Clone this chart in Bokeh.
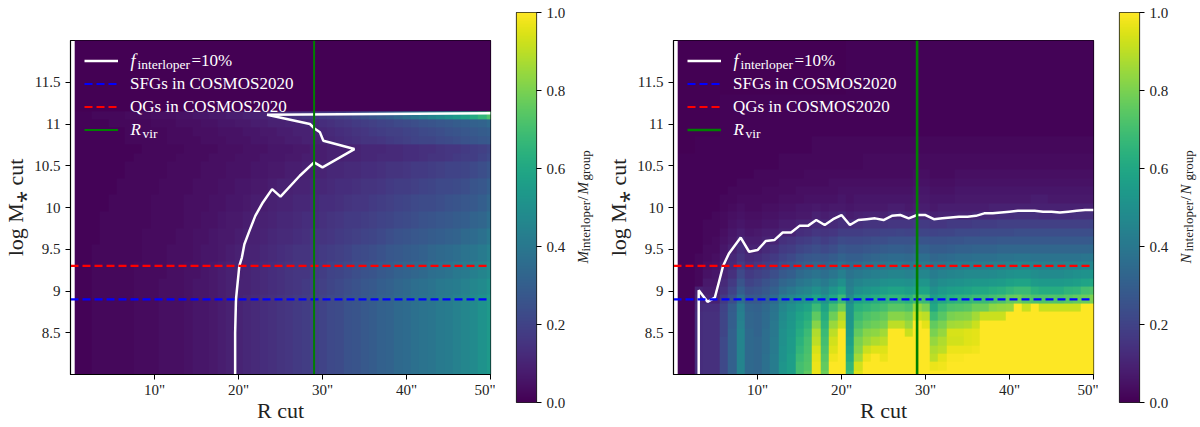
import numpy as np
from bokeh.plotting import figure
from bokeh.layouts import row
from bokeh.embed import file_html
from bokeh.resources import INLINE
from bokeh.models import (LinearColorMapper, FixedTicker, Label, Legend, LegendItem, LinearAxis)
from bokeh.palettes import Viridis256

# Column centres (R cut, arcsec) and row centres (log M* cut)
r_cut = list(range(1, 51))
mass_cut = [round(8.0 + 0.1 * i, 1) for i in range(41)]

# ---- left panel: M_interloper / M_group (percent), one list per group of rows, 50 columns
ML_low = [1,1,2,2,2,2,2,3,3,3, 4,4,4,5,6,6,7,8,9,10, 11,12,13,14,15,16,17,18,19,20, 22,23,25,26,28,29,31,32,34,35, 37,38,39,41,42,44,46,48,51,54]
ML_90 = [1,1,2,2,2,2,2,3,3,3, 4,4,4,5,6,6,7,8,9,10, 10,11,12,13,14,15,16,17,18,19, 21,22,24,25,27,28,30,31,33,34, 36,37,38,40,41,42,44,46,48,51]
ML_92 = [1,1,2,2,2,2,2,3,3,3, 3,4,4,5,5,6,7,8,9,9, 10,11,12,13,14,15,16,16,17,18, 20,21,22,24,25,26,28,29,31,32, 33,34,36,37,38,40,41,43,45,48]
ML_94 = [1,1,2,2,2,2,2,2,3,3, 3,4,4,4,5,6,6,7,8,9, 10,10,11,12,13,14,15,15,16,17, 18,19,20,22,23,24,25,27,28,29, 30,31,33,34,35,36,38,39,41,44]
ML_96 = [1,1,1,2,2,2,2,2,3,3, 3,3,4,4,5,5,6,7,7,8, 9,9,10,11,12,12,13,14,15,15, 16,17,18,19,20,21,22,24,25,26, 27,28,29,30,31,32,34,35,37,40]
ML_98 = [1,1,1,2,2,2,2,2,2,3, 3,3,3,4,4,5,5,6,7,7, 8,9,9,10,11,11,12,13,13,14, 15,16,17,17,18,19,20,21,22,23, 24,25,26,27,28,29,30,32,33,36]
ML_100 = [1,1,1,1,2,2,2,2,2,3, 3,3,3,4,4,4,5,5,6,6, 7,8,8,9,10,10,11,11,12,13, 13,14,15,16,16,17,18,19,20,21, 22,23,23,24,25,26,27,28,30,33]
ML_102 = [1,1,1,1,1,2,2,2,2,2, 3,3,3,3,4,4,4,5,5,6, 6,7,7,8,9,9,10,10,11,11, 12,13,13,14,15,15,16,17,18,18, 19,20,21,22,22,23,24,26,27,30]
ML_104 = [1,1,1,1,1,1,2,2,2,2, 2,3,3,3,3,4,4,4,5,5, 5,6,6,7,7,8,8,9,10,10, 11,11,12,12,13,13,14,15,15,16, 17,17,18,19,20,20,21,22,24,26]
ML_106 = [1,1,1,1,1,1,1,2,2,2, 2,2,3,3,3,3,4,4,4,5, 5,5,6,6,6,7,7,8,8,8, 9,9,10,10,11,11,12,12,12,13, 13,14,15,15,16,17,18,18,20,22]
ML_107 = [1,1,1,1,1,1,1,1,2,2, 2,2,2,3,3,3,3,4,4,4, 5,5,5,6,6,6,7,7,8,8, 9,9,9,10,11,11,11,12,12,13, 13,14,14,15,16,16,17,18,19,21]
ML_108 = [1,1,1,1,1,1,2,2,2,2, 2,3,3,3,3,4,4,4,5,5, 5,6,6,7,7,8,8,9,9,10, 11,12,13,14,15,15,16,17,18,19, 20,21,21,22,23,24,25,26,27,28]
ML_109 = [1,1,1,1,1,1,2,2,2,2, 2,3,3,3,4,4,4,5,5,5, 6,6,7,7,8,8,9,9,10,11, 12,13,14,15,16,17,18,19,19,20, 21,22,23,24,25,26,27,28,29,30]
ML_110 = [1,1,1,1,2,2,2,2,2,3, 3,3,4,4,4,5,5,6,6,7, 7,8,8,9,9,10,10,11,12,13, 14,15,16,17,18,19,20,21,22,23, 24,25,26,27,28,29,30,31,32,34]
ML_111 = [1,1,2,2,2,2,3,3,3,4, 4,4,5,5,6,6,7,7,8,8, 9,9,10,11,12,13,14,15,16,17, 18,19,20,22,24,26,28,30,33,36, 39,42,45,48,51,54,57,61,66,72]
ML_top = [0,0,0,0,0,0,0,0,0,0, 0,0,0,0,0,0,0,0,0,0, 0,0,0,0,0,0,0,0,0,0, 0,0,0,0,0,0,0,0,0,0, 0,0,0,0,0,0,0,0,0,0]

# ---- right panel: N_interloper / N_group (percent), one list per row
NR_80 = [1,1,13,14,14,22,31,45,34,33, 37,42,52,56,70,75,97,78,100,100, 68,95,100,100,100,100,100,100,100,100, 100,100,100,100,100,100,100,100,100,100, 100,100,100,100,100,100,100,100,100,100]
NR_81 = [1,1,13,14,14,22,31,45,34,33, 37,42,52,56,70,73,97,76,100,100, 66,93,100,100,100,100,100,100,100,100, 97,98,100,100,100,100,100,100,100,100, 100,100,100,100,100,100,100,100,100,100]
NR_82 = [1,1,13,14,14,22,31,45,34,33, 37,42,51,56,68,72,96,74,98,100, 62,86,97,100,97,100,100,100,100,100, 90,96,99,99,100,100,100,100,100,100, 100,100,100,100,100,100,100,100,100,100]
NR_83 = [1,1,13,14,14,22,31,45,34,33, 36,41,51,55,66,71,94,72,95,100, 59,82,92,95,95,100,100,100,100,100, 88,90,97,97,97,98,100,100,100,100, 100,100,100,100,100,100,100,100,100,100]
NR_84 = [1,1,13,14,14,22,31,45,34,33, 36,41,50,55,64,70,90,70,93,100, 57,80,85,88,90,100,100,100,100,100, 84,88,93,93,95,96,100,100,100,100, 100,100,100,100,100,100,100,100,100,100]
NR_85 = [1,1,13,14,14,21,31,45,34,32, 36,40,50,54,62,68,88,68,90,100, 55,76,82,83,86,100,100,92,100,100, 80,84,94,94,95,96,100,100,100,100, 100,100,100,100,100,100,100,100,100,100]
NR_86 = [1,1,13,14,14,21,30,44,33,32, 35,40,49,53,60,65,82,65,85,92, 53,72,76,78,80,90,90,85,100,96, 76,80,86,87,88,92,100,100,100,100, 100,100,100,100,100,100,100,100,100,100]
NR_87 = [1,1,13,14,14,21,30,43,33,32, 35,39,48,52,58,62,75,62,78,88, 52,68,72,74,76,82,82,80,92,90, 68,74,80,81,82,86,92,92,92,100, 100,100,100,100,100,100,100,100,100,100]
NR_88 = [1,1,12,13,13,20,29,42,32,31, 34,38,46,50,55,58,68,58,70,78, 52,64,66,68,70,74,74,72,84,80, 60,68,72,73,74,78,78,83,84,85, 100,92,100,92,92,92,92,92,100,100]
NR_89 = [1,1,11,10,9,17,24,36,28,28, 31,35,43,46,50,52,58,52,60,68, 48,58,60,62,64,66,66,64,70,68, 56,60,63,65,66,68,68,70,72,76, 77,74,72,72,73,72,74,76,77,80]
NR_90 = [1,1,9,8,8,14,20,30,24,25, 28,31,37,40,44,46,50,46,52,58, 44,50,52,54,56,58,58,56,58,58, 50,54,56,57,58,60,60,62,63,66, 68,68,64,62,62,62,65,66,70,72]
NR_91 = [1,1,2,7,7,12,17,26,20,22, 25,28,33,35,39,41,44,41,45,50, 42,45,47,48,50,51,51,50,52,52, 46,49,50,51,52,53,53,54,55,57, 58,58,55,54,54,54,55,56,58,60]
NR_92 = [1,1,2,5,6,10,14,22,17,19, 21,24,28,30,34,36,38,36,39,43, 38,40,42,43,44,45,45,44,46,46, 42,44,45,46,47,47,47,48,49,50, 51,51,49,48,48,48,49,50,51,52]
NR_93 = [1,1,2,4,5,9,12,18,14,16, 18,20,24,26,29,31,33,31,34,37, 34,35,37,38,39,40,40,39,41,41, 38,39,40,41,42,42,42,43,43,44, 45,45,44,43,43,43,44,44,45,46]
NR_94 = [1,1,2,3,4,7,11,15,12,13, 15,17,20,22,25,27,28,27,29,32, 30,30,32,33,34,35,35,34,36,36, 33,34,35,36,36,37,37,37,38,38, 39,39,38,38,38,38,38,38,39,40]
NR_95 = [1,1,1,3,3,6,9,13,10,10, 12,14,17,18,21,22,24,22,24,27, 26,26,27,28,29,30,30,29,31,31, 29,29,30,31,31,32,32,32,33,33, 33,33,33,33,33,33,33,33,33,34]
NR_96 = [1,1,1,2,3,5,7,11,8,8, 10,10,14,15,17,18,20,18,20,23, 22,22,23,24,24,25,25,25,26,26, 25,25,26,26,27,27,27,27,28,28, 28,28,28,28,28,28,28,28,28,29]
NR_97 = [1,1,1,2,2,4,6,8,6,7, 8,8,10,10,13,14,16,15,16,18, 18,18,19,19,20,20,21,20,21,21, 20,21,21,22,22,22,23,23,23,23, 24,24,24,24,24,24,24,24,24,24]
NR_98 = [1,1,1,2,2,3,5,6,5,5, 6,6,8,8,10,10,12,11,12,14, 13,14,15,15,15,16,16,16,17,17, 16,16,17,17,17,18,18,18,19,19, 19,19,19,19,19,19,19,19,19,20]
NR_99 = [1,1,1,1,2,3,4,5,4,4, 5,5,6,6,7,7,9,8,9,11, 8,9,10,10,9,11,11,10,11,11, 9,10,10,10,10,11,12,12,13,13, 14,14,14,13,13,13,13,14,14,14]
NR_100 = [1,1,1,1,1,2,3,4,3,3, 4,4,5,5,6,6,7,6,7,7, 6,7,7,7,7,8,8,7,8,8, 7,8,8,8,8,8,8,9,9,9, 9,9,9,9,9,9,9,9,9,9]
NR_101 = [1,1,1,1,1,2,2,3,3,3, 3,3,4,4,4,5,5,5,5,6, 5,6,6,6,6,6,6,6,7,7, 6,6,6,7,7,7,7,7,7,7, 7,7,8,8,7,7,7,7,7,7]
NR_102 = [1,1,1,1,1,1,2,2,2,2, 3,3,3,3,4,4,4,4,4,5, 5,5,5,5,5,5,5,5,6,6, 5,5,5,6,6,6,6,6,6,6, 6,6,6,6,6,6,6,6,6,6]
NR_103 = [1,1,1,1,1,1,1,2,2,2, 2,2,3,3,3,3,3,3,4,4, 4,4,4,4,4,4,4,4,5,5, 4,4,4,5,5,5,5,5,5,5, 5,5,5,5,5,5,5,5,5,5]
NR_104 = [1,1,1,1,1,1,1,1,1,2, 2,2,2,2,2,3,3,3,3,3, 3,3,3,3,3,3,3,3,4,4, 3,3,3,4,4,4,4,4,4,4, 4,4,4,4,4,4,4,4,4,4]
NR_105 = [1,1,1,1,1,1,1,1,1,1, 1,1,2,2,2,2,2,2,2,2, 2,2,3,3,3,3,3,3,3,3, 3,3,3,3,3,3,3,3,3,3, 3,3,3,3,3,3,3,3,3,3]
NR_107 = [0,0,1,1,1,1,1,1,1,1, 1,1,1,1,1,1,2,2,2,2, 2,2,2,2,2,2,2,2,2,2, 2,2,2,2,2,2,2,2,2,2, 2,2,2,2,2,2,2,2,2,2]
NR_109 = [0,0,0,0,0,1,1,1,1,1, 1,1,1,1,1,1,1,1,1,1, 1,1,1,1,1,1,1,1,1,1, 1,1,1,1,1,1,1,1,1,1, 1,1,1,1,1,1,1,1,1,1]
NR_top = [0,0,0,0,0,0,0,0,0,0, 0,0,0,0,0,0,0,0,0,0, 1,1,1,1,1,1,1,1,1,1, 1,1,1,1,1,1,1,1,1,1, 1,1,1,1,1,1,1,1,1,1]

# ---- 10% contours
contour_left_r = [19.6,19.6,19.7,19.8,20.1,20.4,20.7,21.3,22.0,22.9,24.0,25.0,27.3,29.0,30.0,33.8,30.1,29.7,29.0,28.5,23.4,50.0]
contour_left_m = [8.0,8.5,8.9,9.0,9.3,9.4,9.56,9.72,9.9,10.06,10.22,10.13,10.38,10.54,10.48,10.70,10.80,10.90,10.95,11.0,11.11,11.13]
contour_right_r = [3.0,3.0,4.05,4.92,5.44,5.9,6.6,8.0,9,10,11,12,13,14,15,16,17,18,19,20,21,22,23,24,25,26,27,28,29,30,31,32,33,34,35,36,37,38,39,40,41,42,43,44,45,46,47,48,49,50]
contour_right_m = [8.0,9.01,8.87,8.92,9.12,9.30,9.45,9.64,9.47,9.49,9.60,9.61,9.70,9.70,9.78,9.78,9.85,9.79,9.86,9.91,9.79,9.85,9.86,9.87,9.85,9.90,9.91,9.87,9.91,9.91,9.86,9.87,9.88,9.89,9.89,9.90,9.93,9.93,9.94,9.95,9.96,9.96,9.96,9.95,9.95,9.94,9.95,9.96,9.97,9.97]

qg_limit = 9.3
sfg_limit = 8.9
r_vir = 29

x_ticks = [10, 20, 30, 40, 50]
x_tick_labels = ['10"', '20"', '30"', '40"', '50"']
y_ticks = [8.5, 9, 9.5, 10, 10.5, 11, 11.5]
y_tick_labels = ["8.5", "9", "9.5", "10", "10.5", "11", "11.5"]
cb_ticks = [0.0, 0.2, 0.4, 0.6, 0.8, 1.0]
cb_tick_labels = ["0.0", "0.2", "0.4", "0.6", "0.8", "1.0"]

left_rows = [ML_low]*10 + [ML_90]*2 + [ML_92]*2 + [ML_94]*2 + [ML_96]*2 + [ML_98]*2 + [ML_100]*2 + [ML_102]*2 + [ML_104]*2 + \
            [ML_106, ML_107, ML_108, ML_109, ML_110, ML_111] + [ML_top]*9
right_rows = [NR_80, NR_81, NR_82, NR_83, NR_84, NR_85, NR_86, NR_87, NR_88, NR_89, NR_90, NR_91, NR_92, NR_93, NR_94, NR_95,
              NR_96, NR_97, NR_98, NR_99, NR_100, NR_101, NR_102, NR_103, NR_104, NR_105, NR_105, NR_107, NR_107, NR_109, NR_109,
              NR_109, NR_109, NR_109, NR_top, NR_top, NR_top, NR_top, NR_top, NR_top, NR_top]

SERIF = "Liberation Serif"
TICK = "15px"
INK = "#222222"
TOP = 40
BOTTOM = 45


def panel(rows, cx, cy, left_border, right_border, lw_green):
    p = figure(output_backend="svg", toolbar_location=None, frame_width=420, frame_height=334,
               x_range=(0, 50), y_range=(8, 12), min_border_left=left_border, min_border_right=right_border,
               min_border_top=TOP, min_border_bottom=BOTTOM, background_fill_color="white", border_fill_color="white")
    mapper = LinearColorMapper(palette=Viridis256, low=0, high=1)
    grid = np.array(rows, dtype=float) / 100.0
    dx = r_cut[1] - r_cut[0]
    dy = mass_cut[1] - mass_cut[0]
    p.image(image=[grid], x=r_cut[0] - dx / 2, y=mass_cut[0] - dy / 2, dw=dx * len(r_cut), dh=dy * len(mass_cut),
            color_mapper=mapper, level="image")
    white = p.line(cx, cy, line_color="white", line_width=2.5)
    blue = p.line([0, 50], [sfg_limit, sfg_limit], line_color="#0000ff", line_width=2.2, line_dash="8 4")
    red = p.line([0, 50], [qg_limit, qg_limit], line_color="#ff0000", line_width=2.2, line_dash="8 4")
    green = p.line([r_vir, r_vir], [8, 12], line_color="#008000", line_width=lw_green)

    p.grid.visible = False
    p.outline_line_color = "black"
    p.outline_line_width = 1.2
    for ax in (p.xaxis[0], p.yaxis[0]):
        ax.minor_tick_line_color = None
        ax.major_tick_in = 0
        ax.major_tick_out = 5
        ax.major_tick_line_color = "black"
        ax.major_tick_line_width = 1
        ax.axis_line_color = "black"
        ax.major_label_text_font = SERIF
        ax.major_label_text_font_size = TICK
        ax.major_label_text_color = INK
        ax.axis_label_text_font = SERIF
        ax.axis_label_text_font_style = "normal"
        ax.axis_label_text_font_size = "22px"
        ax.axis_label_text_color = INK
    p.xaxis[0].ticker = FixedTicker(ticks=x_ticks)
    p.xaxis[0].major_label_overrides = dict(zip(x_ticks, x_tick_labels))
    p.xaxis[0].axis_label = "R cut"
    p.xaxis[0].major_label_standoff = 2
    p.xaxis[0].axis_label_standoff = -3
    p.yaxis[0].ticker = FixedTicker(ticks=y_ticks)
    p.yaxis[0].major_label_overrides = dict(zip(y_ticks, y_tick_labels))
    p.yaxis[0].axis_label = "log M\u204e cut"
    p.yaxis[0].major_label_standoff = 5
    p.yaxis[0].axis_label_standoff = 3

    legend = Legend(items=[LegendItem(label=" ", renderers=[white]),
                           LegendItem(label="SFGs in COSMOS2020", renderers=[blue]),
                           LegendItem(label="QGs in COSMOS2020", renderers=[red]),
                           LegendItem(label=" ", renderers=[green])],
                    location=(14, 233), orientation="vertical", background_fill_alpha=0, border_line_alpha=0,
                    padding=0, margin=0, spacing=0, glyph_width=34, glyph_height=23, label_height=23,
                    label_standoff=12, label_text_color="white", label_text_font=SERIF, label_text_font_size="17px")
    p.add_layout(legend, "center")

    def piece(text, x, y, size, style="normal"):
        p.add_layout(Label(x=x, y=y, x_units="screen", y_units="screen", text=text, text_color="white",
                           text_font=SERIF, text_font_size=size, text_font_style=style,
                           text_baseline="alphabetic", text_align="left"))
    # legend entries with sub-scripts, from the frame's bottom-left
    piece("f", 60, 314, "18px", "italic")
    piece("interloper", 67, 310, "13.5px")
    piece("=10%", 121, 314, "17px")
    piece("R", 60, 245, "17px", "italic")
    piece("vir", 72, 241, "13.5px")
    return p, mapper


def bar(mapper, left_border, right_border):
    c = figure(output_backend="svg", toolbar_location=None, frame_width=20, frame_height=390,
               x_range=(0, 1), y_range=(0, 1), min_border_left=left_border, min_border_right=right_border,
               min_border_top=12, min_border_bottom=38, x_axis_location=None, y_axis_location=None,
               outline_line_color=INK, outline_line_width=1.2, background_fill_color=None, border_fill_color=None,
               margin=(-28, 0, 0, 0))
    c.grid.visible = False
    levels = np.arange(256).reshape(256, 1) / 255.0
    c.image(image=[levels], x=0, y=0, dw=1, dh=1, color_mapper=mapper, level="image")
    ax = LinearAxis(ticker=FixedTicker(ticks=cb_ticks), major_label_overrides=dict(zip(cb_ticks, cb_tick_labels)),
                    major_tick_in=0, major_tick_out=5, major_tick_line_color="black", minor_tick_line_color=None,
                    axis_line_color=None, major_label_text_font=SERIF, major_label_text_font_size=TICK,
                    major_label_text_color=INK, major_label_standoff=5)
    c.add_layout(ax, "right")
    return c


def bar_title(width, first, sub1, second, sub2):
    t = figure(output_backend="svg", toolbar_location=None, frame_width=width, frame_height=334,
               x_range=(0, 1), y_range=(0, 1), min_border_left=0, min_border_right=0,
               min_border_top=TOP, min_border_bottom=BOTTOM, x_axis_location=None, y_axis_location=None,
               outline_line_color=None, background_fill_color=None, border_fill_color=None)
    t.grid.visible = False

    def piece(text, y, size, style, x):
        t.add_layout(Label(x=x, y=y, x_units="screen", y_units="screen", text=text, angle=np.pi / 2,
                           text_color=INK, text_font=SERIF, text_font_size=size, text_font_style=style,
                           text_baseline="alphabetic", text_align="left"))
    piece(first, 111, "15px", "italic", 12)
    piece(sub1, 123, "13px", "normal", 15)
    piece("/", 174, "15px", "normal", 12)
    piece(second, 180, "15px", "italic", 12)
    piece(sub2, 194, "13px", "normal", 15)
    return t


p1, m1 = panel(left_rows, contour_left_r, contour_left_m, 63, 5, 2)
c1 = bar(m1, 21, 34)
t1 = bar_title(32, "M", "interloper", "M", "group")
p2, m2 = panel(right_rows, contour_right_r, contour_right_m, 71, 5, 2.6)
c2 = bar(m2, 21, 34)
t2 = bar_title(24, "N", "interloper", "N", "group")

page = row(p1, c1, t1, p2, c2, t2, spacing=0)
open("out.html", "w").write(file_html(page, INLINE))
